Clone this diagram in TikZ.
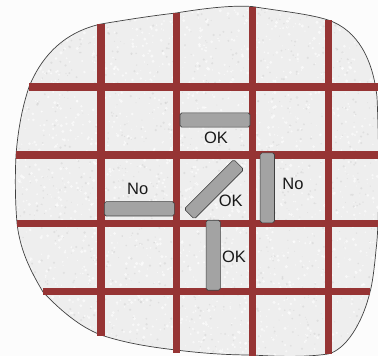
\documentclass[tikz,border=0pt]{standalone}
\usepackage{fontspec}
\setmainfont{Liberation Sans}
\definecolor{grout}{HTML}{963434}
\definecolor{tile}{HTML}{EEEEEE}
\definecolor{bar}{HTML}{A3A3A3}
\definecolor{page}{HTML}{FCFCFC}
\tikzset{
  x=1pt,y=-1pt,
  joint/.style={line width=7.2pt,draw=grout},
  rod/.style={draw=black!75,line width=.6pt,fill=bar,rounded corners=1.8pt,minimum width=70pt,minimum height=14.3pt,inner sep=0pt,anchor=center},
  lab/.style={font=\fontsize{16.5}{17}\selectfont,text=black!90,inner sep=0pt,anchor=center}
}
\begin{document}
\begin{tikzpicture}
\useasboundingbox (0,0) rectangle (378,356);
\fill[page] (0,0) rectangle (378,356);
\def\outline{(252,6.5) .. controls (280,11) and (310,14) .. (328,20)
  .. controls (358,30) and (373,60) .. (377,97)
  .. controls (379,140) and (380,220) .. (376,250)
  .. controls (374,272) and (372,285) .. (370,292)
  .. controls (362,325) and (345,350) .. (328,354)
  .. controls (300,358) and (270,356) .. (252,355)
  .. controls (225,355) and (200,353) .. (176,350)
  .. controls (150,347) and (125,343) .. (101,335)
  .. controls (80,327) and (60,310) .. (43,292)
  .. controls (30,270) and (20,250) .. (17,223)
  .. controls (15,200) and (15,175) .. (16,155)
  .. controls (18,130) and (22,108) .. (29,87)
  .. controls (42,55) and (65,32) .. (101,24)
  .. controls (125,20) and (150,16) .. (176,13)
  .. controls (200,9) and (230,5) .. (252,6.5) -- cycle}
\begin{scope}
\clip \outline;
\fill[tile] \outline;
\pgfmathsetseed{7}
\foreach \i in {1,...,2000}{
  \pgfmathsetmacro{\px}{rnd*378}
  \pgfmathsetmacro{\py}{rnd*356}
  \pgfmathsetmacro{\pr}{0.5+rnd*1.2}
  \fill[white,opacity=.6] (\px,\py) circle[radius=\pr];
}
\foreach \i in {1,...,1200}{
  \pgfmathsetmacro{\px}{rnd*378}
  \pgfmathsetmacro{\py}{rnd*356}
  \pgfmathsetmacro{\pr}{0.4+rnd*0.9}
  \fill[black!25,opacity=.3] (\px,\py) circle[radius=\pr];
}
\end{scope}
\draw[black!75,line width=.7pt] \outline;
% grout joints
\coordinate (h1a) at (29,87);   \coordinate (h1b) at (378,87);
\coordinate (h2a) at (16,155);  \coordinate (h2b) at (378,155);
\coordinate (h3a) at (17,223.3);\coordinate (h3b) at (378,223.3);
\coordinate (h4a) at (43,291.7);\coordinate (h4b) at (370,291.7);
\coordinate (v1a) at (101,24);  \coordinate (v1b) at (101,336);
\coordinate (v2a) at (176.7,13);\coordinate (v2b) at (176.7,353);
\coordinate (v3a) at (252.3,6.5);\coordinate (v3b) at (252.3,356);
\coordinate (v4a) at (328.3,20);\coordinate (v4b) at (328.3,353.5);
\draw[joint] (h1a) -- (h1b);
\draw[joint] (h2a) -- (h2b);
\draw[joint] (h3a) -- (h3b);
\draw[joint] (h4a) -- (h4b);
\draw[joint] (v1a) -- (v1b);
\draw[joint] (v2a) -- (v2b);
\draw[joint] (v3a) -- (v3b);
\draw[joint] (v4a) -- (v4b);
% rods
\node[rod] (rodtop) at (215,120) {};
\node[rod] (rodleft) at (139.3,208.8) {};
\node[rod,rotate=90] (rodright) at (267.3,187.8) {};
\node[rod,rotate=90] (rodlow) at (213.2,255.2) {};
\node[rod,rotate=45] (roddiag) at (214,189.3) {};
% labels
\node[lab] (oktop) at (216,138) {OK};
\node[lab] (noleft) at (137.7,188.7) {No};
\node[lab] (okdiag) at (230.7,201) {OK};
\node[lab] (noright) at (293,184) {No};
\node[lab] (oklow) at (234,256.7) {OK};
\end{tikzpicture}
\end{document}
